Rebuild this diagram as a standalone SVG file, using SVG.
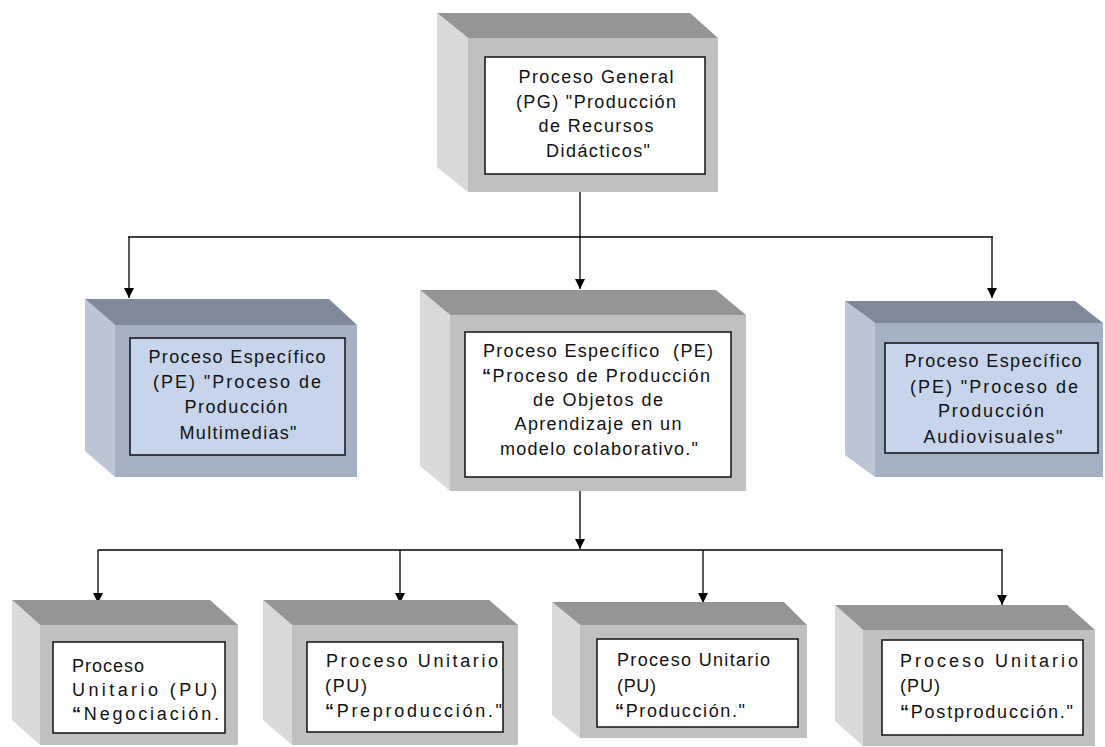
<svg xmlns="http://www.w3.org/2000/svg" width="1105" height="747" viewBox="0 0 1105 747">
<defs>
<marker id="ah" markerUnits="userSpaceOnUse" markerWidth="10" markerHeight="10" viewBox="0 0 10 10" refX="10" refY="5" orient="auto">
<path d="M0,0 L10,5 L0,10 z" fill="#000"/>
</marker>
</defs>
<style>
.gt{fill:#959595}.gf{fill:#c0c0c0}.gl{fill:#d9d9d9}
.bt{fill:#7e8999}.bf{fill:#a4b0c3}.bl{fill:#bac5d6}
.iw{fill:#ffffff;stroke:#111;stroke-width:1.5}
.ib{fill:#c7d5ec;stroke:#111;stroke-width:1.5}
text{font-family:"Liberation Sans",Arial,sans-serif;font-size:18px;fill:#111}
.c{text-anchor:middle}
.q{font-weight:bold}
.cn{stroke:#000;stroke-width:1.3;fill:none}
</style>
<rect width="1105" height="747" fill="#fff"/>

<g id="connectors">
<line class="cn" x1="580" y1="192" x2="580" y2="237"/>
<line class="cn" x1="128" y1="237" x2="993" y2="237"/>
<line class="cn" x1="129" y1="237" x2="129" y2="298" marker-end="url(#ah)"/>
<line class="cn" x1="580" y1="237" x2="580" y2="289" marker-end="url(#ah)"/>
<line class="cn" x1="992" y1="237" x2="992" y2="298" marker-end="url(#ah)"/>
<line class="cn" x1="580" y1="491" x2="580" y2="549" marker-end="url(#ah)"/>
<line class="cn" x1="98" y1="550" x2="1003" y2="550"/>
<line class="cn" x1="98" y1="550" x2="98" y2="603" marker-end="url(#ah)"/>
<line class="cn" x1="400" y1="550" x2="400" y2="603" marker-end="url(#ah)"/>
<line class="cn" x1="703" y1="550" x2="703" y2="603" marker-end="url(#ah)"/>
<line class="cn" x1="1002" y1="550" x2="1002" y2="605" marker-end="url(#ah)"/>
</g>

<g id="pg">
<polygon class="gt" points="437,13 690,13 718,38 468,38"/>
<polygon class="gl" points="437,13 468,38 468,192 437,167"/>
<rect class="gf" x="468" y="38" width="250" height="154"/>
<rect class="iw" x="485" y="57" width="220" height="117"/>
<text class="c" x="596" y="83" textLength="155" lengthAdjust="spacing">Proceso General</text>
<text class="c" x="596" y="108" textLength="160" lengthAdjust="spacing">(PG) "Producción</text>
<text class="c" x="596" y="132" textLength="115" lengthAdjust="spacing">de Recursos</text>
<text class="c" x="598" y="157" textLength="104" lengthAdjust="spacing">Didácticos"</text>
</g>

<g id="pe-multimedias">
<polygon class="bt" points="85,299 329,299 357,325 115,325"/>
<polygon class="bl" points="85,299 115,325 115,477 85,451"/>
<rect class="bf" x="115" y="325" width="242" height="152"/>
<rect class="ib" x="130" y="338" width="215" height="117"/>
<text class="c" x="237" y="363" textLength="177" lengthAdjust="spacing">Proceso Específico</text>
<text class="c" x="237" y="388" textLength="168" lengthAdjust="spacing">(PE) "Proceso de</text>
<text class="c" x="236" y="413" textLength="103" lengthAdjust="spacing">Producción</text>
<text class="c" x="238" y="439" textLength="117" lengthAdjust="spacing">Multimedias"</text>
</g>

<g id="pe-objetos">
<polygon class="gt" points="420,290 716,290 746,315 450,315"/>
<polygon class="gl" points="420,290 450,315 450,491 420,466"/>
<rect class="gf" x="450" y="315" width="296" height="176"/>
<rect class="iw" x="465" y="332" width="266" height="145"/>
<text class="c" x="598" y="357" textLength="230" lengthAdjust="spacing">Proceso Específico&#160; (PE)</text>
<text class="c" x="596" y="382" textLength="228" lengthAdjust="spacing"><tspan class="q">“</tspan>Proceso de Producción</text>
<text class="c" x="598" y="406" textLength="130" lengthAdjust="spacing">de Objetos de</text>
<text class="c" x="598" y="430" textLength="167" lengthAdjust="spacing">Aprendizaje en un</text>
<text class="c" x="599" y="455" textLength="198" lengthAdjust="spacing">modelo colaborativo."</text>
</g>

<g id="pe-audiovisuales">
<polygon class="bt" points="845,301 1075,301 1103,323 875,323"/>
<polygon class="bl" points="845,301 875,323 875,477 845,455"/>
<rect class="bf" x="875" y="323" width="228" height="154"/>
<rect class="ib" x="885" y="343" width="213" height="110"/>
<text class="c" x="993" y="367" textLength="177" lengthAdjust="spacing">Proceso Específico</text>
<text class="c" x="994" y="393" textLength="168" lengthAdjust="spacing">(PE) "Proceso de</text>
<text class="c" x="991" y="417" textLength="106" lengthAdjust="spacing">Producción</text>
<text class="c" x="993" y="443" textLength="139" lengthAdjust="spacing">Audiovisuales"</text>
</g>

<g id="pu-negociacion">
<polygon class="gt" points="12,600 210,600 238,625 40,625"/>
<polygon class="gl" points="12,600 40,625 40,745 12,720"/>
<rect class="gf" x="40" y="625" width="198" height="120"/>
<rect class="iw" x="53" y="642" width="172" height="91"/>
<text x="72" y="672" textLength="72" lengthAdjust="spacing">Proceso</text>
<text x="72" y="696" textLength="145" lengthAdjust="spacing">Unitario (PU)</text>
<text x="72" y="720" textLength="147" lengthAdjust="spacing"><tspan class="q">“</tspan>Negociación.</text>
</g>

<g id="pu-preproduccion">
<polygon class="gt" points="263,600 489,600 518,625 292,625"/>
<polygon class="gl" points="263,600 292,625 292,745 263,720"/>
<rect class="gf" x="292" y="625" width="226" height="120"/>
<rect class="iw" x="307" y="642" width="196" height="90"/>
<text x="326" y="667" textLength="172" lengthAdjust="spacing">Proceso Unitario</text>
<text x="325" y="692" textLength="42" lengthAdjust="spacing">(PU)</text>
<text x="325" y="717" textLength="177" lengthAdjust="spacing"><tspan class="q">“</tspan>Preproducción."</text>
</g>

<g id="pu-produccion">
<polygon class="gt" points="552,602 784,602 807,625 580,625"/>
<polygon class="gl" points="552,602 580,625 580,738 552,715"/>
<rect class="gf" x="580" y="625" width="227" height="113"/>
<rect class="iw" x="597" y="639" width="201" height="88"/>
<text x="617" y="666" textLength="153" lengthAdjust="spacing">Proceso Unitario</text>
<text x="617" y="692" textLength="39" lengthAdjust="spacing">(PU)</text>
<text x="615" y="717" textLength="130" lengthAdjust="spacing"><tspan class="q">“</tspan>Producción."</text>
</g>

<g id="pu-postproduccion">
<polygon class="gt" points="835,605 1067,605 1095,630 863,630"/>
<polygon class="gl" points="835,605 863,630 863,746 835,721"/>
<rect class="gf" x="863" y="630" width="232" height="116"/>
<rect class="iw" x="882" y="640" width="201" height="95"/>
<text x="900" y="667" textLength="178" lengthAdjust="spacing">Proceso Unitario</text>
<text x="900" y="692" textLength="40" lengthAdjust="spacing">(PU)</text>
<text x="900" y="718" textLength="173" lengthAdjust="spacing"><tspan class="q">“</tspan>Postproducción."</text>
</g>
</svg>
